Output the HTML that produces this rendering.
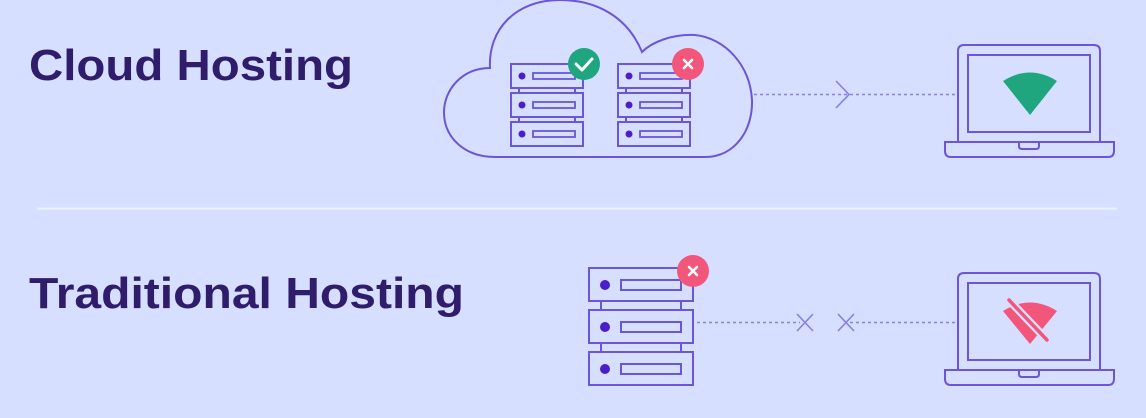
<!DOCTYPE html>
<html><head><meta charset="utf-8"><style>
html,body{margin:0;padding:0;background:#d6dfff;}
svg{display:block}
</style></head><body>
<svg width="1146" height="418" viewBox="0 0 1146 418" xmlns="http://www.w3.org/2000/svg">
<rect width="1146" height="418" fill="#d6dfff"/>
<text x="29" y="80" font-family="Liberation Sans, sans-serif" font-weight="bold" font-size="44" fill="#2f1c6a" textLength="324" lengthAdjust="spacingAndGlyphs">Cloud Hosting</text>
<text x="29" y="308" font-family="Liberation Sans, sans-serif" font-weight="bold" font-size="44" fill="#2f1c6a" textLength="435" lengthAdjust="spacingAndGlyphs">Traditional Hosting</text>
<line x1="37" y1="208.5" x2="1117" y2="208.5" stroke="#eef2ff" stroke-width="2"/>

<g fill="none" stroke="#6c55d8" stroke-width="2">
<path d="M495,157 H705 C735,157 753,130 752,100 C750,65 725,38 695,35 C672,34 652,42 642,52 C628,18 598,0 560,0 C515,0 488,30 490,68 C462,68 444,90 444,112 C444,138 465,157 495,157 Z"/>
</g>

<defs>
<g id="srv">
<rect x="0" y="0" width="72" height="24" fill="#d6dfff" stroke="#6c55d8" stroke-width="2"/>
<circle cx="11" cy="12" r="3.5" fill="#4a1fc8"/>
<rect x="22" y="9" width="42" height="6" fill="none" stroke="#6c55d8" stroke-width="1.8"/>
</g>
<g id="srvb">
<rect x="0" y="0" width="104" height="33" fill="#d6dfff" stroke="#6c55d8" stroke-width="2"/>
<circle cx="16" cy="17" r="5" fill="#4a1fc8"/>
<rect x="32" y="12" width="60" height="10" fill="none" stroke="#6c55d8" stroke-width="2"/>
</g>
</defs>
<g stroke="#6c55d8" stroke-width="2">
<line x1="519" y1="88" x2="519" y2="93"/><line x1="575" y1="88" x2="575" y2="93"/>
<line x1="519" y1="118" x2="519" y2="122"/><line x1="575" y1="118" x2="575" y2="122"/>
<line x1="626" y1="88" x2="626" y2="93"/><line x1="682" y1="88" x2="682" y2="93"/>
<line x1="626" y1="118" x2="626" y2="122"/><line x1="682" y1="118" x2="682" y2="122"/>
<line x1="601" y1="301" x2="601" y2="310"/><line x1="681" y1="301" x2="681" y2="310"/>
<line x1="601" y1="343" x2="601" y2="352"/><line x1="681" y1="343" x2="681" y2="352"/>
</g>
<use href="#srv" x="511" y="64"/><use href="#srv" x="511" y="93"/><use href="#srv" x="511" y="122"/>
<use href="#srv" x="618" y="64"/><use href="#srv" x="618" y="93"/><use href="#srv" x="618" y="122"/>
<use href="#srvb" x="589" y="268"/><use href="#srvb" x="589" y="310"/><use href="#srvb" x="589" y="352"/>

<circle cx="584" cy="64" r="16" fill="#1fa67f"/>
<path d="M576,64 L582,70 L592,59" fill="none" stroke="#fff" stroke-width="3" stroke-linecap="round" stroke-linejoin="round"/>
<circle cx="688" cy="64" r="16" fill="#f2567a"/>
<path d="M684,60 L692,68 M692,60 L684,68" stroke="#fff" stroke-width="2.6" stroke-linecap="round"/>
<circle cx="693" cy="271" r="16" fill="#f2567a"/>
<path d="M689,267 L697,275 M697,267 L689,275" stroke="#fff" stroke-width="2.6" stroke-linecap="round"/>

<g stroke="#8a7ee0" stroke-width="1.6" fill="none">
<line x1="754" y1="94.5" x2="955" y2="94.5" stroke-dasharray="3 3"/>
<path d="M836,81 L849,94.5 L836,108"/>
<line x1="697" y1="322.5" x2="800" y2="322.5" stroke-dasharray="3 3"/>
<line x1="850" y1="322.5" x2="955" y2="322.5" stroke-dasharray="3 3"/>
<path d="M797,314 L813,331 M813,314 L797,331"/>
<path d="M838,314 L854,331 M854,314 L838,331"/>
</g>

<g fill="none" stroke="#6c55d8" stroke-width="2">
<path d="M958,142 V51 Q958,45 964,45 H1094 Q1100,45 1100,51 V142"/>
<rect x="968" y="55" width="122" height="77"/>
<path d="M945,142 H1114 V151 Q1114,157 1108,157 H951 Q945,157 945,151 Z"/>
<path d="M1019,142 V146 Q1019,149 1022,149 H1036 Q1039,149 1039,146 V142"/>
<path d="M958,370 V279 Q958,273 964,273 H1094 Q1100,273 1100,279 V370"/>
<rect x="968" y="283" width="122" height="77"/>
<path d="M945,370 H1114 V379 Q1114,385 1108,385 H951 Q945,385 945,379 Z"/>
<path d="M1019,370 V374 Q1019,377 1022,377 H1036 Q1039,377 1039,374 V370"/>
</g>
<path d="M1030,115 L1003,81 Q1030,64 1057,81 Z" fill="#1fa67f"/>
<path d="M1030,344 L1003,311 Q1030,294 1057,311 Z" fill="#f2567a"/>
<line x1="1006" y1="297" x2="1050" y2="343" stroke="#d6dfff" stroke-width="8"/>
<line x1="1009" y1="300" x2="1047" y2="340" stroke="#f2567a" stroke-width="3.5" stroke-linecap="round"/>
</svg>
</body></html>
